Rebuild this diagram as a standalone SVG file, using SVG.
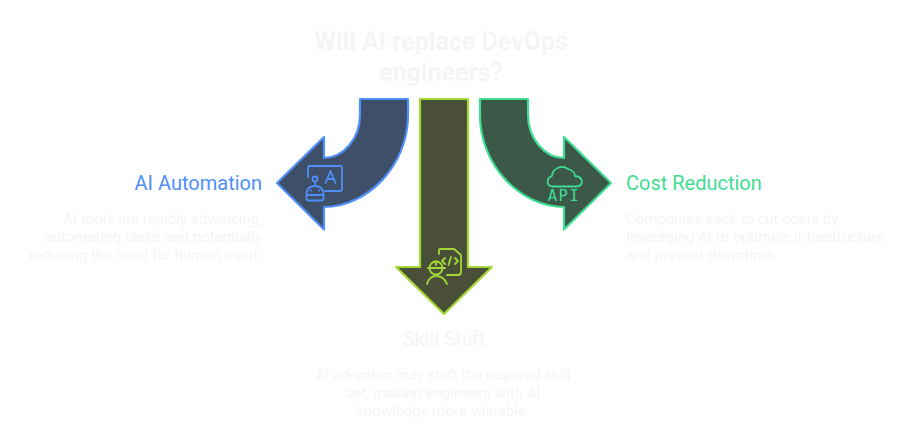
<svg xmlns="http://www.w3.org/2000/svg" width="915" height="447" viewBox="0 0 915 447">
<style>
text{font-family:Roboto,"Liberation Sans",sans-serif}
.t{font-size:25px;font-weight:700;fill:#f5f5f5;text-anchor:middle}
.h{font-size:20px;font-weight:400}
.d{font-size:15px;font-weight:400;fill:#f5f5f5}
.a{stroke-width:2.2;stroke-linejoin:round}
.i{fill:none;stroke-width:1.800;stroke-linecap:round;stroke-linejoin:round}
.blue{stroke:#4f8ff7}.lime{stroke:#a3d936}.green{stroke:#3fdc93}
</style>
<g id="connectors">
<path class="a blue" fill="#3d4f69" d="M360 99H408V115C408 166 367 207 324 207V229.500L277 183L324 137V158C343 158 360 139 360 115Z"/>
<path class="a lime" fill="#4a5037" d="M420 99H468V267H492L444 314L396 267H420Z"/>
<path class="a green" fill="#3c5849" d="M480 99H528V115C528 139 545 158 564 158V137L611 183L564 229.500V207C521 207 480 166 480 115Z"/>
</g>
<g id="title"><text class="t" x="441" y="50">Will AI replace DevOps</text><text class="t" x="441" y="81">engineers?</text></g>
<g id="ai-automation">
<g class="i blue">
<path d="M308 177V168Q308 166 310 166H340Q342 166 342 168V189Q342 191 340 191H325"/>
<path d="M325.500 183L330.500 171L335.500 183M327 179H334"/>
<circle cx="315" cy="179" r="2.500"/><path d="M315 182V185"/>
<path d="M306.500 199V195Q306.500 186 315 186Q323.500 186 323.500 195V199Q323.500 200.500 322 200.500H308Q306.500 200.500 306.500 199ZM306.500 195H323.500"/>
<path d="M311 190.500H311.100M319 190.500H319.100"/>
</g>
<text class="h" x="262" y="190" text-anchor="end" fill="#4f8ff7">AI Automation</text>
<text class="d" text-anchor="end"><tspan x="262" y="224">AI tools are rapidly advancing,</tspan><tspan x="262" y="242">automating tasks and potentially</tspan><tspan x="262" y="260">reducing the need for human input.</tspan></text>
</g>
<g id="skill-shift">
<g class="i lime">
<path d="M439 254V250Q439 249 440 249H454L461 255V272Q461 275 458 275H447"/>
<path d="M445 258L442 261L445 264M455 258L458 261L455 264M451 257L448.500 265"/>
<circle cx="436" cy="268" r="6.500"/><path d="M428 268H445M436 261V265"/>
<path d="M427 284C428 279 432 276 436 276C441 276 445 279 447 284"/>
</g>
<text class="h" x="444" y="346" text-anchor="middle" fill="#f5f5f5">Skill Shift</text>
<text class="d" text-anchor="middle"><tspan x="443" y="380">AI adoption may shift the required skill</tspan><tspan x="443" y="398">set, making engineers with AI</tspan><tspan x="443" y="416">knowledge more valuable.</tspan></text>
</g>
<g id="cost-reduction">
<g class="i green">
<path d="M553 186.500C546 186.500 546 178 552 176C552 169 562 164 568 169C572 170 575 173 575 176C584 177 584 186.500 576 186.500Z"/>
</g>
<text x="564" y="201" text-anchor="middle" font-size="15.500" fill="#3fdc93" style="font-family:'DejaVu Sans Mono',monospace" letter-spacing="1.500">API</text>
<text class="h" x="626" y="190" fill="#3fdc93">Cost Reduction</text>
<text class="d"><tspan x="626" y="224">Companies seek to cut costs by</tspan><tspan x="626" y="242">leveraging AI to optimize infrastructure</tspan><tspan x="626" y="260">and prevent downtime.</tspan></text>
</g>
</svg>
